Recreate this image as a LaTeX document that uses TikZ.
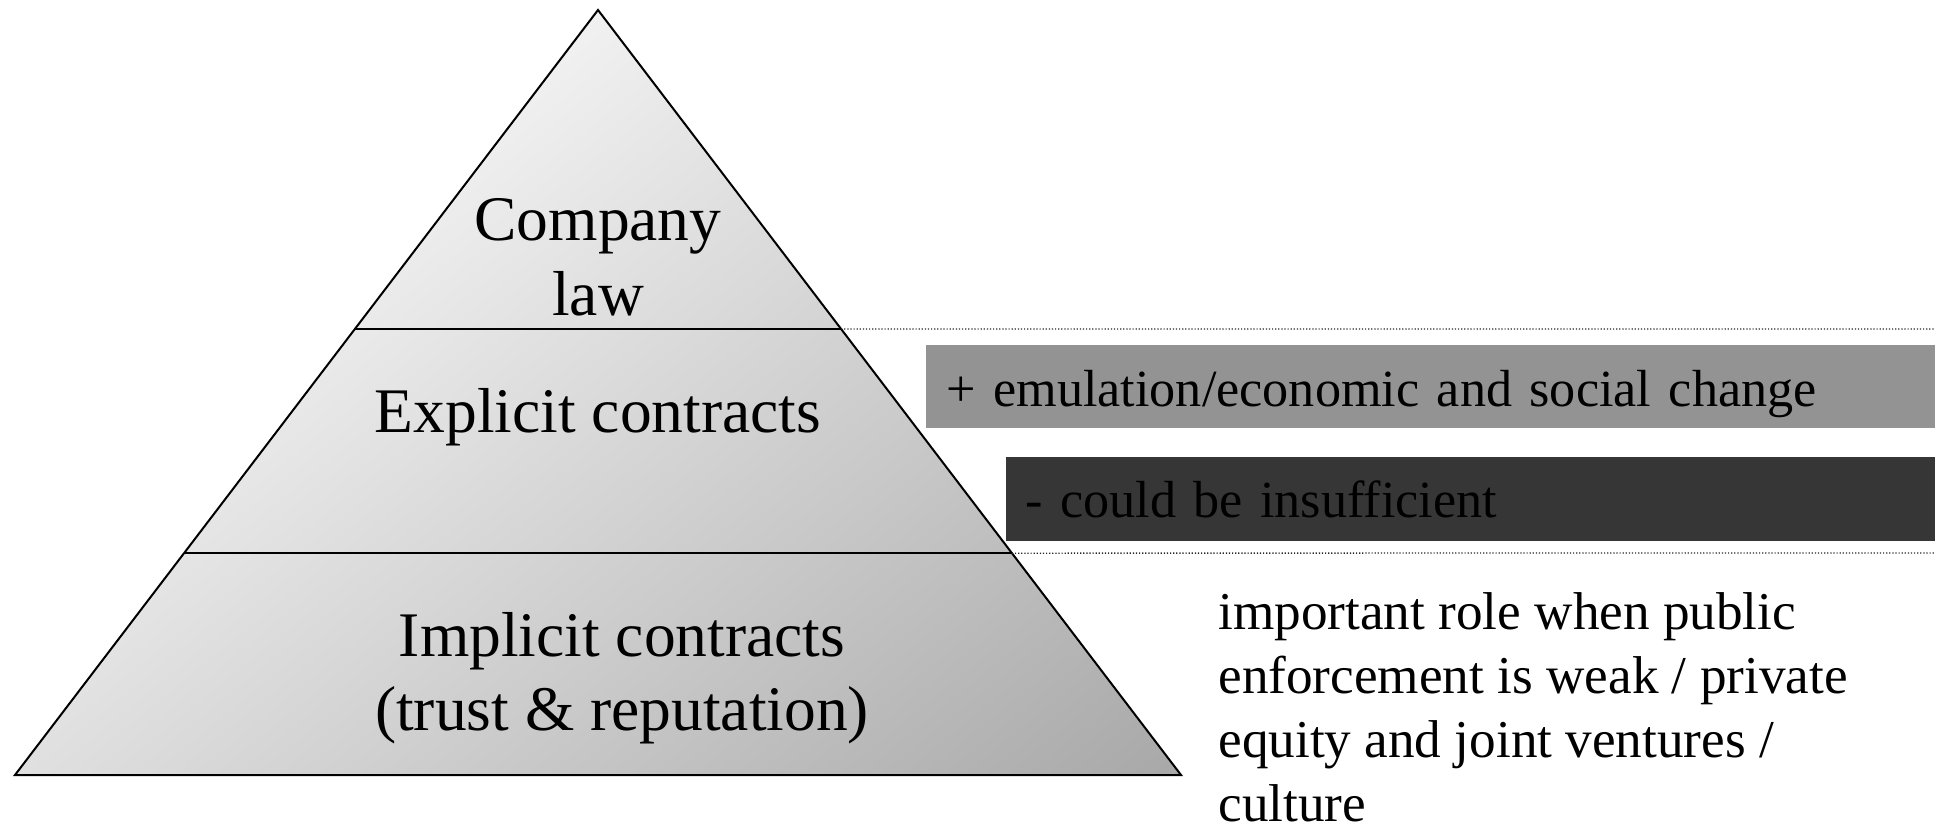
\documentclass[tikz,border=0pt]{standalone}
\usepackage{fontspec}
\setmainfont{Liberation Serif}
\usetikzlibrary{calc}
\definecolor{pyrlight}{RGB}{241,241,241}
\definecolor{pyrdark}{RGB}{168,168,168}
\definecolor{boxmid}{RGB}{147,147,147}
\definecolor{boxdark}{RGB}{54,54,54}
\pgfdeclarehorizontalshading{pyrshade}{517.5pt}{color(0pt)=(pyrlight); color(25pt)=(pyrlight); color(505.7pt)=(pyrdark); color(530.5pt)=(pyrdark)}
\tikzset{
  pyrline/.style={line width=1pt, black},
  guide/.style={line width=0.65pt, black!85, dash pattern=on 0.6pt off 0.95pt},
  pyrtext/.style={anchor=base, inner sep=0pt},
  notebox/.style={anchor=north west, inner ysep=0pt, align=left, font=\fontsize{26.1}{32}\selectfont},
}
\begin{document}
\begin{tikzpicture}[x=0.5pt, y=-0.5pt]
\useasboundingbox (0,0) rectangle (1939,824);
% pyramid corners
\coordinate (apex) at (598,10);
\coordinate (bl) at (15,775);
\coordinate (br) at (1181,775);
\coordinate (l1) at ($(apex)!0.417!(bl)$);
\coordinate (r1) at ($(apex)!0.417!(br)$);
\coordinate (l2) at ($(apex)!0.710!(bl)$);
\coordinate (r2) at ($(apex)!0.710!(br)$);
\coordinate (e1) at (1934,329);
\coordinate (e2) at (1934,553);
% gradient fill
\begin{scope}
  \clip (apex) -- (bl) -- (br) -- cycle;
  \node[rotate=-50.8, inner sep=0pt] (shade) at (539.4,677.9) {\pgfuseshading{pyrshade}};
\end{scope}
\draw[pyrline, line join=miter] (apex) -- (bl) -- (br) -- cycle;
\draw[pyrline] (l1) -- (r1);
\draw[pyrline] (l2) -- (r2);
% guide lines
\draw[guide] (r1) -- (e1);
\draw[guide] (r2) -- (e2);
% pyramid texts
\node[pyrtext] (company) at (598,240) {\parbox[t]{300pt}{\fontsize{31.75}{38}\selectfont\centering Company\\law}};
\node[pyrtext] (explicit) at (598,432) {\fontsize{31.75}{38}\selectfont Explicit contracts};
\node[pyrtext] (implicit) at (622,656) {\parbox[t]{320pt}{\fontsize{31.75}{37}\selectfont\centering Implicit contracts\\(trust \& reputation)}};
% boxes
\node[notebox, fill=boxmid, inner xsep=10pt, text width=484.5pt, text height=30.5pt, text depth=11pt] (plus) at (926,345) {+ emulation/economic and social change};
\node[notebox, fill=boxdark, inner xsep=9.5pt, text width=445.5pt, text height=30pt, text depth=12pt] (minus) at (1006,457) {- could be insufficient};
% note
\node[anchor=base west, inner sep=0pt] (note) at (1218,629) {\parbox[t]{340pt}{\fontsize{26.6}{32}\selectfont\raggedright important role when public\\enforcement is weak / private\\equity and joint ventures /\\culture}};
\end{tikzpicture}
\end{document}
